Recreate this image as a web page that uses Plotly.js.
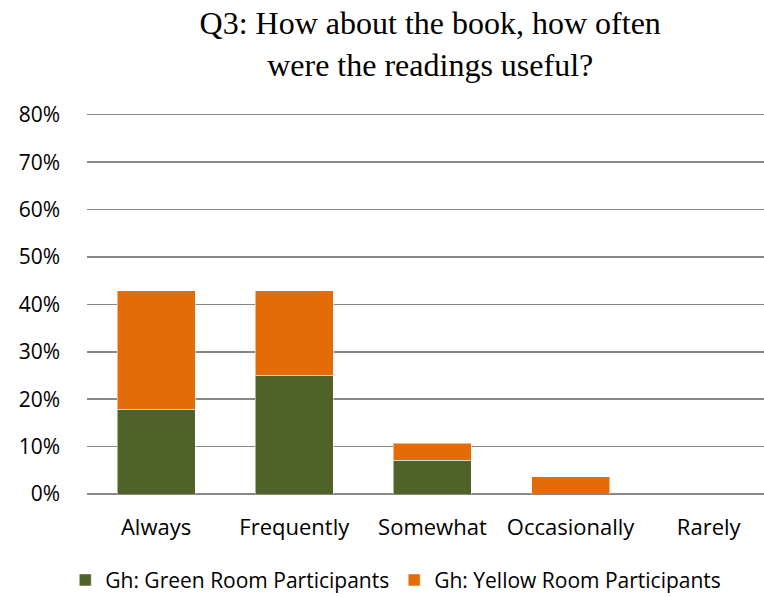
<!DOCTYPE html>
<html>
<head>
<meta charset="utf-8">
<script src="https://cdn.plot.ly/plotly-3.0.1.min.js"></script>
<style>html,body{margin:0;padding:0;background:#fff;overflow:hidden;}#chart{width:764px;height:597px;}</style>
</head>
<body>
<div id="chart"></div>
<script>
const categories = ["Always", "Frequently", "Somewhat", "Occasionally", "Rarely"];
const greenValues = [0.179, 0.25, 0.071, 0, 0];
const yellowValues = [0.25, 0.179, 0.036, 0.036, 0];
const yTickVals = [0, 0.1, 0.2, 0.3, 0.4, 0.5, 0.6, 0.7, 0.8];
const yTickText = ["0%", "10%", "20%", "30%", "40%", "50%", "60%", "70%", "80%"];

const traces = [
  {type: "bar", name: "Gh: Green Room Participants", x: categories, y: greenValues,
   marker: {color: "#4f6228", line: {color: "rgba(255,255,255,0.5)", width: 1}}},
  {type: "bar", name: "Gh: Yellow Room Participants", x: categories, y: yellowValues,
   marker: {color: "#e36c09", line: {color: "rgba(255,255,255,0.5)", width: 1}}}
];

const layout = {
  width: 764, height: 597,
  barmode: "stack",
  bargap: 0.436,
  paper_bgcolor: "#fff", plot_bgcolor: "#fff",
  margin: {l: 87, r: 0, t: 110, b: 103},
  font: {family: "Open Sans, Liberation Sans, sans-serif", color: "#000", size: 21},
  title: {text: "Q3: How about the book, how often<br>were the readings useful?",
          font: {family: "Liberation Serif, Times New Roman, serif", size: 32, color: "#000"},
          x: 0.507, xanchor: "center", xref: "paper", yref: "container", y: 0.943, yanchor: "middle"},
  xaxis: {range: [-0.5, 4.4], showgrid: false, showline: false, zeroline: false, ticks: "",
          tickfont: {size: 22}, ticklabelstandoff: 18, automargin: false},
  yaxis: {range: [0, 0.81], tickvals: yTickVals, ticktext: yTickText, showgrid: true,
          gridcolor: "#888", gridwidth: 1.5, zeroline: true, zerolinecolor: "#888", zerolinewidth: 2,
          showline: false, ticks: "", ticklabelstandoff: 26, tickfont: {size: 21}, automargin: false},
  legend: {orientation: "h", xref: "container", x: 0.518, xanchor: "center", yref: "container", y: 0.028, yanchor: "middle",
           font: {size: 21}, traceorder: "normal", itemwidth: 30},
  showlegend: true
};

Plotly.newPlot("chart", traces, layout, {displayModeBar: false, staticPlot: true});
</script>
</body>
</html>
